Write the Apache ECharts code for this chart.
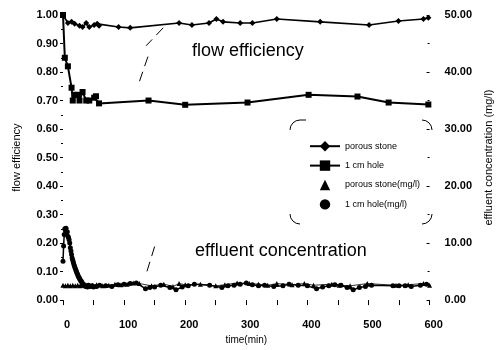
<!DOCTYPE html>
<html>
<head>
<meta charset="utf-8">
<script src="https://cdn.jsdelivr.net/npm/echarts@6/dist/echarts.min.js"></script>
<style>
  html, body { margin: 0; padding: 0; background: #fff; }
  #chart { width: 502px; height: 350px; }
</style>
</head>
<body>
<div id="chart"></div>
<script>
// Flow efficiency (left axis) and effluent concentration (right axis) over time
const leftTicks = [0, 0.1, 0.2, 0.3, 0.4, 0.5, 0.6, 0.7, 0.8, 0.9, 1.0];
const rightTicks = [0, 10, 20, 30, 40, 50];
const timeTicks = [0, 100, 200, 300, 400, 500, 600];

// porous stone – flow efficiency [time(min), efficiency]
const porousFlow = [
  [0, 1.00], [8, 0.972], [14, 0.976], [19, 0.969], [27, 0.962], [32, 0.958],
  [38, 0.972], [43, 0.958], [51, 0.965], [56, 0.969], [59, 0.962], [91, 0.958],
  [110, 0.955], [190, 0.972], [211, 0.965], [239, 0.972], [251, 0.986], [262, 0.976],
  [290, 0.972], [310, 0.972], [350, 0.986], [421, 0.976], [501, 0.965], [549, 0.979],
  [590, 0.986], [598, 0.99]
];

// 1 cm hole – flow efficiency
const holeFlow = [
  [0, 1.00], [3, 0.85], [8, 0.82], [14, 0.745], [16, 0.70], [19, 0.72], [24, 0.72],
  [27, 0.70], [32, 0.73], [38, 0.70], [43, 0.70], [51, 0.71], [54, 0.715], [59, 0.69],
  [140, 0.70], [200, 0.685], [302, 0.693], [402, 0.72], [482, 0.714], [533, 0.693],
  [598, 0.686]
];

// porous stone – effluent concentration (mg/l)
const porousConc = [
  [0, 2.6], [4, 2.5], [8, 2.6], [12, 2.5], [16, 2.6], [20, 2.5], [24, 2.6], [28, 2.5],
  [32, 2.6], [36, 2.7], [40, 2.6], [44, 2.5], [48, 2.6], [55, 2.7], [65, 2.5], [75, 2.6],
  [85, 2.8], [95, 2.7], [105, 2.8], [115, 3.0], [125, 2.9], [145, 2.5], [165, 2.8],
  [180, 2.4], [190, 2.9], [200, 2.7], [225, 2.8], [250, 2.5], [265, 2.7], [285, 3.0],
  [305, 2.9], [320, 2.8], [335, 2.6], [350, 2.9], [375, 2.7], [395, 2.9], [410, 2.6],
  [440, 2.8], [452, 2.6], [470, 2.5], [498, 2.9], [545, 2.6], [565, 2.7], [590, 2.9],
  [600, 2.6]
];

// 1 cm hole – effluent concentration (mg/l)
const holeConc = [
  [0, 6.8], [1, 9.5], [2, 11.5], [3, 12.5], [4, 12.2], [5, 12.6], [6, 11.8], [7, 12.0],
  [8, 11.2], [9, 11.0], [10, 10.6], [11, 10.0], [12, 9.2], [13, 8.6], [14, 8.0],
  [15, 7.4], [16, 7.0], [17, 6.6], [18, 6.2], [19, 5.9], [20, 5.6], [21, 5.3], [22, 5.0],
  [23, 4.7], [24, 4.5], [25, 4.2], [26, 4.0], [27, 3.8], [28, 3.6], [29, 3.4], [30, 3.3],
  [31, 3.1], [32, 2.9], [33, 2.8], [34, 2.7], [35, 2.6], [36, 2.5], [37, 2.4], [38, 2.5],
  [40, 2.3], [42, 2.6], [45, 2.4], [48, 2.5], [50, 2.3], [55, 2.4], [60, 2.6], [70, 2.5],
  [80, 2.4], [90, 2.7], [100, 2.8], [110, 2.9], [120, 3.0], [135, 2.0], [142, 2.2],
  [150, 2.3], [160, 2.6], [175, 2.2], [185, 1.8], [195, 2.3], [205, 2.5], [215, 2.8],
  [240, 2.6], [260, 2.2], [270, 2.5], [280, 2.6], [290, 2.8], [300, 3.0], [310, 2.7],
  [320, 2.5], [330, 2.6], [345, 2.4], [360, 2.5], [370, 2.8], [385, 2.6], [400, 2.5],
  [415, 2.0], [425, 2.3], [435, 2.5], [445, 2.7], [455, 2.6], [465, 2.2], [475, 1.8],
  [485, 2.2], [495, 2.4], [505, 2.6], [540, 2.5], [550, 2.5], [560, 2.5], [570, 2.4],
  [585, 2.6], [595, 2.8]
];

const seriesNames = ['porous stone', '1 cm hole', 'porous stone(mg/l)', '1 cm hole(mg/l)'];

const sans = 'Arial, "Liberation Sans", sans-serif';
const narrow = '"Liberation Sans Narrow", "Arial Narrow", Arial, "Liberation Sans", sans-serif';
const labelFont = { fontFamily: sans, fontSize: 11, fontWeight: 'bold', color: '#000' };

const chart = echarts.init(document.getElementById('chart'), null, { renderer: 'canvas' });

chart.setOption({
  animation: false,
  backgroundColor: '#fff',
  grid: { left: 63, right: 63, top: 15, bottom: 48 },
  legend: {
    orient: 'vertical',
    left: 304,
    top: 136,
    itemWidth: 30,
    itemHeight: 13,
    itemGap: 9,
    textStyle: { fontFamily: narrow, fontSize: 9, color: '#000' },
    data: [
      { name: seriesNames[0] },
      { name: seriesNames[1] },
      { name: seriesNames[2], lineStyle: { opacity: 0 } },
      { name: seriesNames[3], lineStyle: { opacity: 0 } }
    ]
  },
  xAxis: {
    type: 'value',
    min: timeTicks[0],
    max: timeTicks[timeTicks.length - 1],
    interval: 100,
    name: 'time(min)',
    nameLocation: 'middle',
    nameGap: 33,
    nameTextStyle: { fontFamily: narrow, fontSize: 10, color: '#000' },
    axisLine: { show: false },
    axisTick: { show: true, length: 5, lineStyle: { color: '#000' } },
    minorTick: { show: true, splitNumber: 2, length: 5, lineStyle: { color: '#000' } },
    splitLine: { show: false },
    axisLabel: Object.assign({ margin: 19, padding: [0, 0, 0, 8] }, labelFont)
  },
  yAxis: [
    {
      type: 'value',
      min: leftTicks[0],
      max: leftTicks[leftTicks.length - 1],
      interval: 0.1,
      position: 'left',
      name: 'flow efficiency',
      nameLocation: 'middle',
      nameGap: 41,
      nameRotate: 90,
      nameTextStyle: { fontFamily: sans, fontSize: 11, color: '#000' },
      axisLine: { show: false },
      axisTick: { show: true, length: 3, lineStyle: { color: '#000' } },
      minorTick: { show: true, splitNumber: 2, length: 2, lineStyle: { color: '#000' } },
      splitLine: { show: false },
      axisLabel: Object.assign({ margin: 5, formatter: v => v.toFixed(2) }, labelFont)
    },
    {
      type: 'value',
      min: rightTicks[0],
      max: rightTicks[rightTicks.length - 1],
      interval: 10,
      position: 'right',
      name: 'effluent concentration (mg/l)',
      nameLocation: 'middle',
      nameGap: 45,
      nameRotate: 90,
      nameTextStyle: { fontFamily: sans, fontSize: 11, color: '#000' },
      axisLine: { show: false },
      axisTick: { show: true, inside: true, length: 3, lineStyle: { color: '#000' } },
      minorTick: { show: true, splitNumber: 2, length: 2, lineStyle: { color: '#000' } },
      splitLine: { show: false },
      axisLabel: Object.assign({ margin: 15, formatter: v => v.toFixed(2) }, labelFont)
    }
  ],
  series: [
    {
      name: seriesNames[0],
      type: 'line',
      yAxisIndex: 0,
      data: porousFlow,
      symbol: 'diamond',
      symbolSize: 6,
      clip: false,
      color: '#000',
      lineStyle: { color: '#000', width: 1.6 },
      itemStyle: { color: '#000' },
      z: 5,
      markLine: {
        silent: true,
        symbol: 'none',
        label: { show: false },
        lineStyle: { color: '#000', width: 1, type: [10, 6] },
        data: [
          [{ coord: [164, 0.955] }, { coord: [136, 0.892] }],
          [{ coord: [139, 0.854] }, { coord: [124, 0.760] }],
          [{ coord: [150, 0.188] }, { coord: [136, 0.091] }]
        ]
      }
    },
    {
      name: seriesNames[1],
      type: 'line',
      yAxisIndex: 0,
      data: holeFlow,
      symbol: 'rect',
      symbolSize: 6,
      clip: false,
      color: '#000',
      lineStyle: { color: '#000', width: 2 },
      itemStyle: { color: '#000' },
      z: 5
    },
    {
      name: seriesNames[2],
      type: 'line',
      yAxisIndex: 1,
      data: porousConc,
      symbol: 'triangle',
      symbolSize: 5,
      clip: false,
      color: '#000',
      lineStyle: { color: '#000', width: 0.8 },
      itemStyle: { color: '#000' },
      z: 4
    },
    {
      name: seriesNames[3],
      type: 'line',
      yAxisIndex: 1,
      data: holeConc,
      symbol: 'circle',
      symbolSize: 5,
      clip: false,
      color: '#000',
      lineStyle: { color: '#000', width: 1.5 },
      itemStyle: { color: '#000' },
      z: 4
    }
  ],
  graphic: [
    {
      type: 'text', left: 192, top: 42,
      style: { text: 'flow efficiency', font: '18px ' + sans, fill: '#000' }
    },
    {
      type: 'text', left: 195, top: 242,
      style: { text: 'effluent concentration', font: '18px ' + sans, fill: '#000' }
    },
    // rounded corner marks framing the legend
    { type: 'arc', shape: { cx: 300, cy: 130, r: 10, startAngle: Math.PI, endAngle: Math.PI * 1.5 }, style: { stroke: '#000', lineWidth: 1, fill: null } },
    { type: 'line', shape: { x1: 300, y1: 120, x2: 306, y2: 120 }, style: { stroke: '#000', lineWidth: 1 } },
    { type: 'arc', shape: { cx: 422, cy: 130, r: 10, startAngle: Math.PI * 1.5, endAngle: Math.PI * 2 }, style: { stroke: '#000', lineWidth: 1, fill: null } },
    { type: 'arc', shape: { cx: 300, cy: 214, r: 10, startAngle: Math.PI * 0.5, endAngle: Math.PI }, style: { stroke: '#000', lineWidth: 1, fill: null } },
    { type: 'arc', shape: { cx: 422, cy: 214, r: 10, startAngle: 0, endAngle: Math.PI * 0.5 }, style: { stroke: '#000', lineWidth: 1, fill: null } }
  ]
});
</script>
</body>
</html>
